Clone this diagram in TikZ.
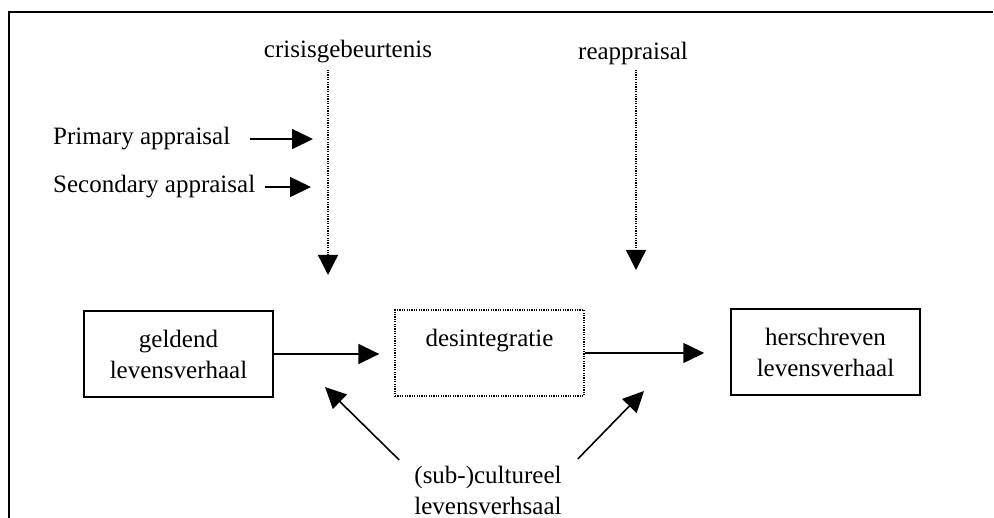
\documentclass[tikz,border=0pt]{standalone}
\usepackage{fontspec}
\setmainfont{Liberation Serif}
\usetikzlibrary{arrows.meta}

\begin{document}
\begin{tikzpicture}[x=1pt, y=-1pt,
  every node/.style={font=\fontsize{25}{31}\selectfont, inner sep=0pt},
  kader/.style={draw, line width=1.5pt, minimum width=189pt, minimum height=86pt, align=center},
  stippel/.style={dash pattern=on 1.2pt off 1.2pt, line width=1.3pt},
  pijl/.style={line width=1.6pt, -{Triangle[length=21pt,width=20pt]}},
  stippelpijl/.style={stippel, -{Triangle[length=20pt,width=20pt]}}]
\useasboundingbox (0,0) rectangle (994,518);
\draw[line width=2pt] (9,518) -- (9,12) -- (993,12);

% labels boven
\node[anchor=base] (crisis) at (348,58) {crisisgebeurtenis};
\node[anchor=base] (reappr) at (633,60) {reappraisal};
\node[anchor=base west] (primair) at (53,145) {Primary appraisal};
\node[anchor=base west] (secundair) at (53,193) {Secondary appraisal};

% kaders
\node[kader] (geldend) at (178.5,354) {geldend\\levensverhaal};
\node[kader, stippel] (desint) at (489.5,353) {desintegratie\\~};
\node[kader] (herschr) at (825.5,352) {herschreven\\levensverhaal};
\node[anchor=north, align=center] (subcult) at (488,466) {(sub-)cultureel\\levensverhsaal};

\coordinate (crisistip) at (328,275);
\coordinate (reapptip) at (636,270);
\coordinate (primtip) at (313,137);
\coordinate (sectip) at (311,182);
\coordinate (linkstip) at (325,387);
\coordinate (rechtstip) at (644,391);

% pijlen
\draw[stippelpijl, shorten <=6pt] (crisis.south -| crisistip) -- (crisistip);
\draw[stippelpijl, shorten <=4pt] (reappr.south -| reapptip) -- (reapptip);
\draw[pijl] ([xshift=20pt]primair.east) -- (primair.east -| primtip);
\draw[pijl] ([xshift=10pt]secundair.east) -- (secundair.east -| sectip);
\draw[pijl, shorten >=15pt] (geldend.east) -- (geldend.east -| desint.west);
\draw[pijl, shorten >=26pt] (desint.east) -- (desint.east -| herschr.west);
\draw[pijl] ([xshift=-15pt,yshift=6pt]subcult.north west) -- (linkstip);
\draw[pijl] ([xshift=16pt,yshift=7pt]subcult.north east) -- (rechtstip);
\end{tikzpicture}
\end{document}
